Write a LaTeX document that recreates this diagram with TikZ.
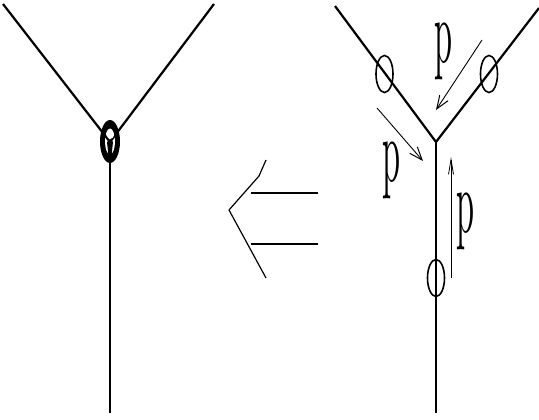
\documentclass[tikz,border=0pt]{standalone}
\usepackage{graphicx}
\usetikzlibrary{arrows.meta,shapes.geometric}
\tikzset{
  x=1pt,y=-1pt,
  wire/.style={line width=2.2pt,black},
  thinwire/.style={line width=1.7pt,black},
  loop/.style={draw,ellipse,line width=1.6pt,minimum width=17pt,minimum height=37pt,inner sep=0pt},
  flow/.style={line width=0.9pt,-{Straight Barb[length=13pt,width=10pt,line width=1pt]}},
  upflow/.style={line width=0.9pt,-{Straight Barb[length=15pt,width=5pt,line width=0.8pt]}},
  plabel/.style={inner sep=0pt},
}
\newcommand{\tallp}{\resizebox*{18pt}{57pt}{p}}
\begin{document}
\begin{tikzpicture}
\useasboundingbox (0,0) rectangle (539,420);
% left diagram
\coordinate (la) at (3,4);
\coordinate (lb) at (214,4);
\coordinate (lj) at (110,142);
\coordinate (ld) at (110,413);
\fill[black] (110,141.5) ellipse [x radius=10pt,y radius=21.5pt];
\fill[white] (110,141.5) ellipse [x radius=5pt,y radius=13pt];
\draw[wire] (la) -- (lj);
\draw[wire] (lb) -- (lj);
\draw[thinwire] (lj) -- (ld);
\fill[black] (lj) ++(-3,0) -- ++(3,-3) -- ++(3,3) -- ++(-1.5,14) -- ++(-3,0) -- cycle;
\draw[line width=2.2pt] (110,142) -- (110,160);
\fill[white] (110.5,135) circle [radius=3.6pt];
% implication arrow
\coordinate (ia) at (266,160);
\coordinate (ib) at (259,176);
\coordinate (ic) at (229,210);
\coordinate (id) at (266,278);
\draw[line width=1.2pt,line join=round] (ia) -- (ib) -- (ic) -- (id);
\coordinate (i1) at (251,193);
\coordinate (i2) at (318,193);
\coordinate (i3) at (251,244);
\coordinate (i4) at (318,244);
\draw[line width=2.4pt] (i1) -- (i2);
\draw[line width=1.9pt] (i3) -- (i4);
% right diagram
\coordinate (ra) at (335,6);
\coordinate (rb) at (539,8);
\coordinate (rj) at (436,142);
\coordinate (rd) at (436,413);
\draw[wire] (ra) -- (rj);
\draw[wire] (rb) -- (rj);
\draw[thinwire] (rj) -- (rd);
\node[loop] (c1) at (384.5,74) {};
\node[loop] (c2) at (489,74) {};
\node[loop] (c3) at (436,278) {};
% momentum arrows
\coordinate (f1a) at (482,40);
\coordinate (f1b) at (436,110);
\coordinate (f2a) at (377,108);
\coordinate (f2b) at (423,161);
\coordinate (f3a) at (451,278);
\coordinate (f3b) at (451,157);
\draw[flow] (f1a) -- (f1b);
\draw[flow] (f2a) -- (f2b);
\draw[upflow] (f3a) -- (f3b);
\node[plabel] (p1) at (443,51) {\tallp};
\node[plabel] (p2) at (391,170) {\tallp};
\node[plabel] (p3) at (465,221) {\tallp};
\end{tikzpicture}
\end{document}
